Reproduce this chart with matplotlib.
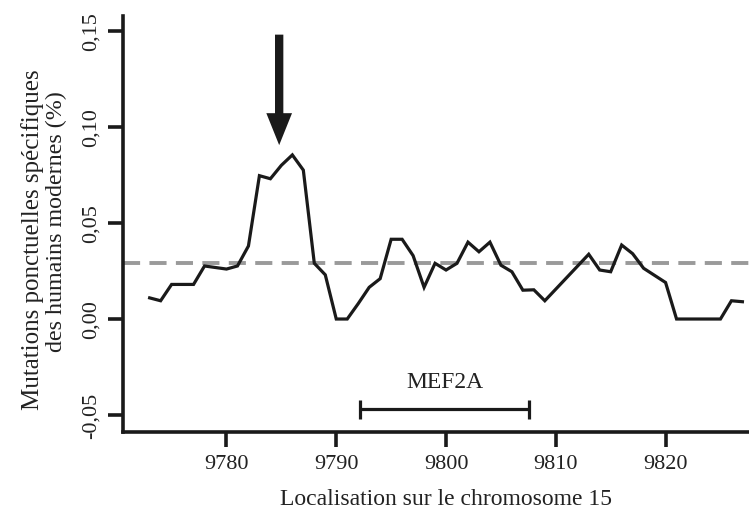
import matplotlib
matplotlib.use("Agg")
import matplotlib.pyplot as plt
from matplotlib.patches import FancyArrowPatch

# ---- data ----
positions = [9773, 9774, 9775, 9777, 9778, 9780, 9781, 9782, 9783, 9784, 9785,
             9786, 9787, 9788, 9789, 9790, 9791, 9792, 9793, 9794, 9795, 9796,
             9797, 9798, 9799, 9800, 9801, 9802, 9803, 9804, 9805, 9806, 9807,
             9808, 9809, 9813, 9814, 9815, 9816, 9817, 9818, 9820, 9821, 9825,
             9826, 9827]
mutations = [0.011, 0.0095, 0.018, 0.018, 0.0276, 0.026, 0.0276, 0.038, 0.0746,
             0.073, 0.080, 0.0854, 0.0775, 0.029, 0.023, 0.0, 0.0, 0.008, 0.0165,
             0.021, 0.0415, 0.0415, 0.033, 0.0165, 0.029, 0.0255, 0.029, 0.040,
             0.035, 0.040, 0.028, 0.0246, 0.015, 0.0152, 0.0095, 0.0337, 0.0255,
             0.0246, 0.0385, 0.034, 0.0264, 0.019, 0.0, 0.0, 0.0095, 0.009]
mean_level = 0.029
gene_name = "MEF2A"
gene_start, gene_end = 9792.2, 9807.6
arrow_pos = 9784.8
xticks = [9780, 9790, 9800, 9810, 9820]
yticks = [-0.05, 0.0, 0.05, 0.10, 0.15]
ytick_labels = ["-0,05", "0,00", "0,05", "0,10", "0,15"]
xlabel = "Localisation sur le chromosome 15"
ylabel_line1 = "Mutations ponctuelles spécifiques"
ylabel_line2 = "des humains modernes (%)"

FONT = ["Liberation Serif", "DejaVu Serif"]
TXT = "#222222"
W, H = 749, 510

fig = plt.figure(figsize=(W / 100, H / 100), dpi=100)
ax = fig.add_axes([123.3 / W, 1 - 433 / H, 1 - 123.3 / W, (433 - 17) / H])
ax.set_xlim(9770.6, 9827.6)
ax.set_ylim(-0.0588, 0.1577)

# dashed mean line
ax.axhline(mean_level, color="#9a9a9a", lw=2.8, dashes=(4.4, 2.4), zorder=1)
# data line
ax.plot(positions, mutations, color="#1a1a1a", lw=2.3, solid_joinstyle="miter", zorder=3)

# gene bar
yb = -0.047
ax.plot([gene_start, gene_end], [yb, yb], color="#1a1a1a", lw=2.3, solid_capstyle="butt")
ax.vlines([gene_start, gene_end], yb - 0.005, yb + 0.005, color="#1a1a1a", lw=2.3)
ax.text((gene_start + gene_end) / 2, -0.0352, gene_name, ha="center", va="baseline",
        fontsize=17, family=FONT, color=TXT)

# arrow
arr = FancyArrowPatch((arrow_pos, 0.148), (arrow_pos, 0.0905),
                      arrowstyle="simple,head_length=2.3,head_width=1.85,tail_width=0.6",
                      mutation_scale=10, lw=0, color="#1a1a1a", shrinkA=0, shrinkB=0,
                      zorder=4)
ax.add_patch(arr)

for s in ["top", "right"]:
    ax.spines[s].set_visible(False)
for s in ["left", "bottom"]:
    ax.spines[s].set_linewidth(2.6)
    ax.spines[s].set_color("#1a1a1a")

ax.set_xticks(xticks)
ax.set_xticklabels([str(t) for t in xticks])
ax.set_yticks(yticks)
ax.set_yticklabels(ytick_labels)
ax.tick_params(axis="both", length=11, width=2.6, color="#1a1a1a", labelcolor=TXT,
               labelsize=16)
ax.tick_params(axis="x", pad=5)
ax.tick_params(axis="y", pad=5)
for lab in ax.get_xticklabels() + ax.get_yticklabels():
    lab.set_family(FONT)
for lab in ax.get_yticklabels():
    lab.set_rotation(90)
    lab.set_va("center")

fig.text(445.5 / W, 1 - 505 / H, xlabel, ha="center", va="baseline", fontsize=17,
         family=FONT, color=TXT)
fig.text(39.5 / W, 1 - 239.5 / H, ylabel_line1, rotation=90, rotation_mode="anchor",
         ha="center", va="baseline", fontsize=18, family=FONT, color=TXT)
fig.text(62.5 / W, 1 - 222 / H, ylabel_line2, rotation=90, rotation_mode="anchor",
         ha="center", va="baseline", fontsize=17.3, family=FONT, color=TXT)

fig.savefig("out.png", dpi=100)
